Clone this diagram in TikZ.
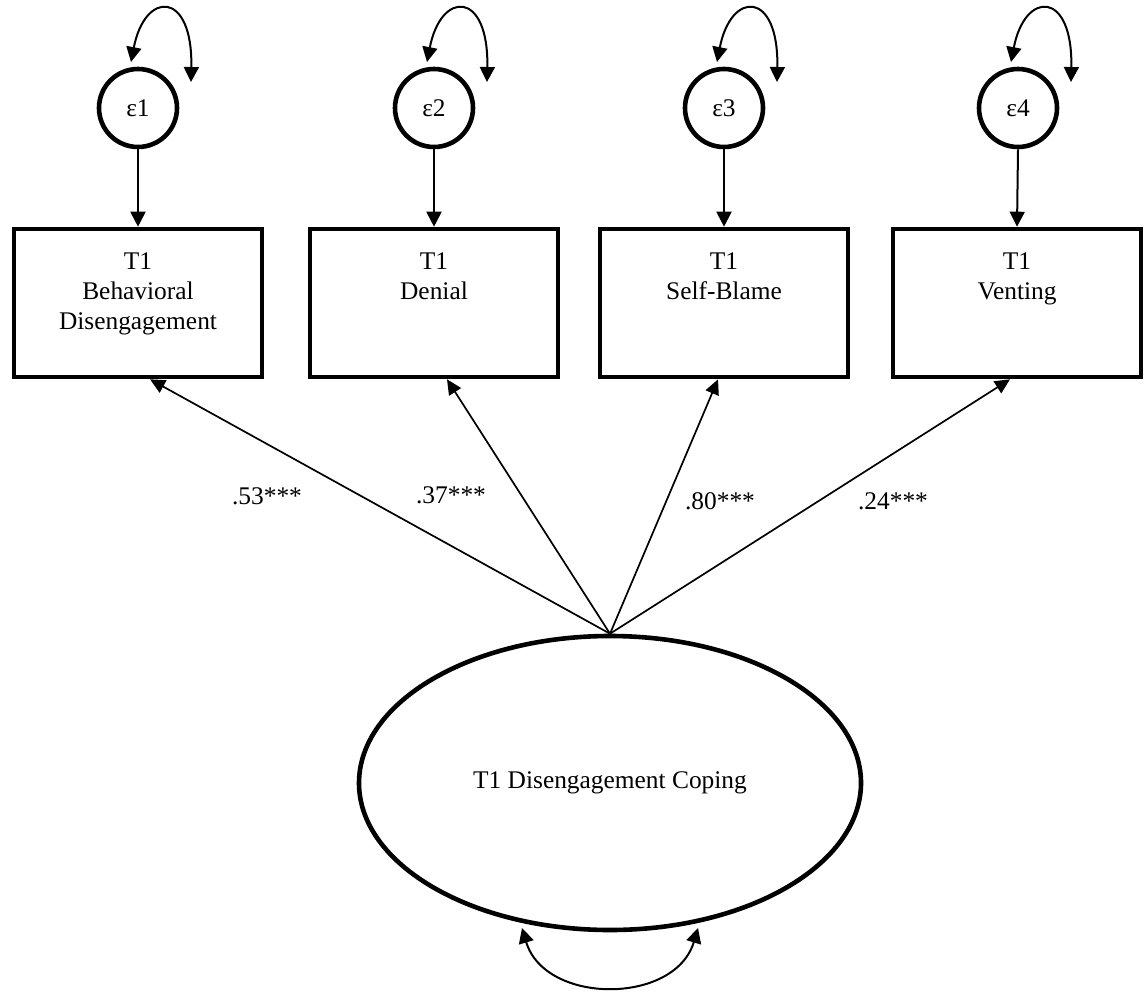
\documentclass[tikz,border=0pt]{standalone}
\usepackage{fontspec}
\setmainfont{Liberation Serif}
\usetikzlibrary{arrows.meta,shapes.geometric,positioning}
\newcommand{\boxlbl}[1]{\parbox[t][50pt][t]{120pt}{\centering #1}}
\tikzset{
	errcirc/.style={circle, draw, line width=2.3pt, minimum size=39pt, inner sep=0pt},
	obsbox/.style={rectangle, draw, line width=2.3pt, minimum width=124pt, minimum height=74pt, inner sep=0pt},
	latent/.style={ellipse, draw, line width=2.3pt, minimum width=251pt, minimum height=147pt},
	onearrow/.style={-{Triangle[length=7.5pt,width=7.5pt]}, line width=1pt},
	loadarrow/.style={-{Triangle[length=7.5pt,width=7pt]}, line width=0.85pt},
	varloop/.style={{Triangle[length=7.5pt,width=7.5pt]}-{Triangle[length=7.5pt,width=7.5pt]}, line width=1pt},
	coef/.style={inner sep=0pt}
}
\begin{document}
\begin{tikzpicture}[x=0.5pt,y=-0.5pt,font=\fontsize{12.7}{15}\selectfont]
		\useasboundingbox (0,0) rectangle (1144,994);
		% error terms
		\node [errcirc] (e1) at (138,108) {ε1};
		\node [errcirc] (e2) at (434,108) {ε2};
		\node [errcirc] (e3) at (724,108) {ε3};
		\node [errcirc] (e4) at (1018,108) {ε4};
		% indicators
		\node [obsbox] (b1) at (138,303) {\boxlbl{T1\\Behavioral\\Disengagement}};
		\node [obsbox] (b2) at (434,303) {\boxlbl{T1\\Denial}};
		\node [obsbox] (b3) at (724,303) {\boxlbl{T1\\Self-Blame}};
		\node [obsbox] (b4) at (1017,303) {\boxlbl{T1\\Venting}};
		% factor
		\node [latent] (lat) at (610,783) {T1 Disengagement Coping};
		\draw [onearrow] (e1.south) -- (b1.north);
		\draw [onearrow] (e2.south) -- (b2.north);
		\draw [onearrow] (e3.south) -- (b3.north);
		\draw [onearrow] (e4.south) -- (b4.north);
		\draw [varloop] ([shift={(-7,-46)}]e1.center) .. controls +(14,-72) and +(2,-92) .. ([shift={(53,-26)}]e1.center);
		\draw [varloop] ([shift={(-7,-46)}]e2.center) .. controls +(14,-72) and +(2,-92) .. ([shift={(53,-26)}]e2.center);
		\draw [varloop] ([shift={(-7,-46)}]e3.center) .. controls +(14,-72) and +(2,-92) .. ([shift={(53,-26)}]e3.center);
		\draw [varloop] ([shift={(-7,-46)}]e4.center) .. controls +(14,-72) and +(2,-92) .. ([shift={(53,-26)}]e4.center);
		\draw [loadarrow] (lat.north) -- ([xshift=6pt]b1.south);
		\draw [loadarrow] (lat.north) -- ([xshift=6.5pt]b2.south);
		\draw [loadarrow] (lat.north) -- ([xshift=-3pt]b3.south);
		\draw [loadarrow] (lat.north) -- ([xshift=-3.5pt]b4.south);
		\node [coef] (l1) at (267,496) {.53***};
		\node [coef] (l2) at (451,495) {.37***};
		\node [coef] (l3) at (720,501) {.80***};
		\node [coef] (l4) at (893,501) {.24***};
		\draw [varloop] ([shift={(-88,145)}]lat.center) .. controls +(23,77) and +(-23,77) .. ([shift={(88,145)}]lat.center);
	\end{tikzpicture}
\end{document}
